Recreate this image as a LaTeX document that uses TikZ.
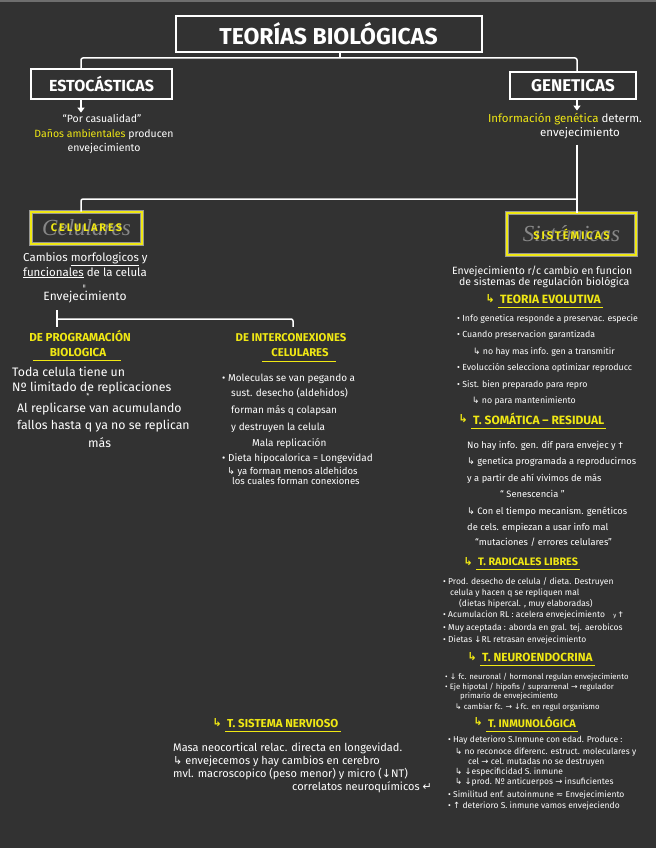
\documentclass[tikz,border=0pt]{standalone}
\usepackage{fontspec}
\setmainfont{Fira Sans}
\newfontfamily\symf{DejaVu Sans}
\newfontfamily\scriptf{Liberation Serif}
\newfontfamily\spacedf[LetterSpace=18]{Fira Sans}
\usetikzlibrary{positioning,arrows.meta,calc}
\definecolor{board}{RGB}{50,50,50}
\definecolor{hy}{RGB}{240,232,20}
\definecolor{boxg}{RGB}{150,150,150}
\definecolor{scrg}{RGB}{135,135,135}
\newcommand{\fsz}[1]{\fontsize{#1}{#1}\selectfont}
\newcommand{\sHook}{{\symf ↳}}
\newcommand{\sTo}{{\symf →}}
\newcommand{\sDown}{{\symf ↓}}
\newcommand{\sUp}{{\symf ↑}}
\newcommand{\sApx}{{\symf ≈}}
\newcommand{\sRet}{{\symf ↵}}
\newcommand{\hl}[1]{\textcolor{hy}{#1}}
\tikzset{
  wbox/.style={draw=white, line width=2pt, fill=board, text=white, inner sep=0pt},
  ybox/.style={draw=boxg, double=hy, double distance=2pt, line width=1pt, fill=board, inner sep=0pt},
  link/.style={white, line width=1.5pt, rounded corners=2pt},
  arr/.style={white, line width=1.5pt, -{Triangle[length=5pt,width=7pt]}},
  txt/.style={text=white, inner sep=0pt, anchor=base west},
  ctxt/.style={txt, anchor=base},
  yhead/.style={text=hy, inner sep=0pt, anchor=base west},
  yhook/.style={text=hy, inner sep=0pt, font=\bfseries\fsz{11}},
  uline/.style={hy, line width=1.6pt},
  scr/.style={text=scrg, font=\scriptf\itshape\fsz{23}, inner sep=0pt},
  ylbl/.style={text=hy, font=\spacedf\bfseries\fsz{11}, inner sep=0pt}
}

\begin{document}
\begin{tikzpicture}[x=1pt,y=-1pt]
  \fill[board] (0,0) rectangle (656,848);
  \fill[boxg!60!board] (0,0) rectangle (656,2);
  \useasboundingbox (0,0) rectangle (656,848);

  \node[wbox, minimum width=306, minimum height=36, font=\bfseries\fsz{23}] (title) at (328.5,34) {TEORÍAS BIOLÓGICAS};
  \node[wbox, minimum width=141, minimum height=30, font=\bfseries\fsz{16}] (esto) at (101.5,84) {ESTOCÁSTICAS};
  \node[wbox, minimum width=126, minimum height=27, font=\bfseries\fsz{17}] (gen) at (573,85.5) {GENETICAS};

  \coordinate (tj) at (340,58);
  \coordinate (tl) at (81,58);
  \coordinate (tr) at (577,58);
  \draw[link] (title.south -| tj) -- (tj);
  \draw[link] (esto.north -| tl) -- (tl) -- (tr) -- (gen.north -| tr);

  \node[ctxt, font=\fsz{10.5}] (est1) at (102,123) {“Por casualidad”};
  \node[ctxt, font=\fsz{10.5}] (est2) at (104,137) {\hl{Daños ambientales} producen};
  \node[ctxt, font=\fsz{10.5}] (est3) at (104,151) {envejecimiento};
  \draw[arr] (esto.south -| tl) -- ([yshift=2pt]est1.north -| tl);

  \node[ctxt, font=\fsz{11.5}] (gen1) at (565,122) {\hl{Información genética} determ.};
  \node[ctxt, font=\fsz{11.5}] (gen2) at (580,136) {envejecimiento};
  \draw[arr] (gen.south -| tr) -- ([yshift=2pt]gen1.north -| tr);

  \node[ybox, minimum width=111, minimum height=32] (celu) at (86.5,228) {};
  \node[scr] (celuS) at (celu) {Celulares};
  \node[ylbl] (celuL) at (celu) {CELULARES};
  \node[ybox, minimum width=129, minimum height=42] (sist) at (571.5,234) {};
  \node[scr] (sistS) at (sist) {Sistémicas};
  \node[ylbl] (sistL) at (sist) {SISTÉMICAS};

  \coordinate (sj) at (577,199);
  \coordinate (sl) at (81,199);
  \draw[link, shorten <=6pt] (gen2.south -| sj) -- (sj) -- (sist.north -| sj);
  \draw[link] (sj) -- (sl) -- (celu.north -| sl);

  \node[txt, font=\fsz{11.5}] (cel1) at (23,261) {Cambios \underline{morfologicos} y};
  \node[txt, font=\fsz{11.5}] (cel2) at (23,276) {\underline{funcionales} de la celula};
  \node[text=white, rotate=90, inner sep=0pt, font=\fsz{8}] (celeq) at (85,286) {=};
  \node[ctxt, font=\fsz{12}] (celenv) at (85,300) {Envejecimiento};

  \node[ctxt, text=hy, font=\bfseries\fsz{11.6}] (prog1) at (80,341) {DE PROGRAMACIÓN};
  \node[ctxt, text=hy, font=\bfseries\fsz{11.6}] (prog2) at (78,356) {BIOLOGICA};
  \draw[uline] ([xshift=-17pt,yshift=-4pt]prog2.south west) -- ([xshift=15pt,yshift=-4pt]prog2.south east);
  \node[ctxt, text=hy, font=\bfseries\fsz{11.3}] (inth1) at (291,341) {DE INTERCONEXIONES};
  \node[ctxt, text=hy, font=\bfseries\fsz{11.3}] (inth2) at (300,356) {CELULARES};
  \draw[uline] ([xshift=-9pt,yshift=-5pt]inth2.south west) -- ([xshift=7pt,yshift=-5pt]inth2.south east);

  \coordinate (bt) at (57,310);
  \coordinate (bb) at (57,327);
  \coordinate (bl) at (57,319);
  \draw[link] (bt) -- (bb);
  \draw[link] (bl) -| ([yshift=6pt]inth1.north -| 293,0);

  \foreach \x/\y/\tx [count=\i] in {12/376/{Toda celula tiene un}, 12/391/{Nº limitado de replicaciones},
      17/412/{Al replicarse van acumulando}, 17/429/{fallos hasta q ya no se replican}, 88/447/{más}}
    \node[txt, font=\fsz{12.3}] (prog\i) at (\x,\y) {\tx};
  \node[text=white, inner sep=0pt, font=\fsz{7}] (progast) at (88,396) {*};

  \foreach \x/\y/\tx [count=\i] in {222/381/{• Moleculas se van pegando a}, 231/396/{sust. desecho (aldehidos)},
      231/413/{forman más q colapsan}, 231/430/{y destruyen la celula}, 252/446/{Mala replicación},
      222/461/{• Dieta hipocalorica = Longevidad}}
    \node[txt, font=\fsz{10}] (int\i) at (\x,\y) {\tx};
  \node[txt, font=\fsz{9.5}] (int7) at (227,474.5) {\sHook\ ya forman menos aldehidos};
  \node[txt, font=\fsz{9.5}] (int8) at (232,484.5) {los cuales forman conexiones};

  \node[txt, font=\fsz{10.5}] (sis1) at (452,274) {Envejecimiento r/c cambio en funcion};
  \node[txt, font=\fsz{10.5}] (sis2) at (459,285) {de sistemas de regulación biológica};

  \foreach \n/\x/\y/\s/\tx in {evo/500/303/12/{TEORIA EVOLUTIVA}, som/473/424/12/{T. SOMÁTICA – RESIDUAL},
      rad/478/565/10.8/{T. RADICALES LIBRES}, neu/482/661/11.8/{T. NEUROENDOCRINA},
      inm/488/727/11/{T. INMUNOLÓGICA}, sn/227/727/11.5/{T. SISTEMA NERVIOSO}}
  {
    \node[yhead, font=\bfseries\fsz{\s}] (\n) at (\x,\y) {\tx};
    \node[yhook, left=5pt of \n] (\n-h) {\sHook};
    \draw[uline] ([xshift=-2pt,yshift=-4pt]\n.south west) -- ([xshift=2pt,yshift=-4pt]\n.south east);
  }

  \foreach \x/\y/\tx [count=\i] in {457/321.3/{• Info genetica responde a preservac. especie},
      457/337.3/{• Cuando preservacion garantizada}, 473/354.3/{\sHook\ no hay mas info. gen a transmitir},
      457/370.3/{• Evolucción selecciona optimizar reproducc}, 457/387.3/{• Sist. bien preparado para repro},
      472/403.3/{\sHook\ no para mantenimiento}}
    \node[txt, font=\fsz{8.8}] (evo\i) at (\x,\y) {\tx};

  \foreach \x/\y/\tx [count=\i] in {467/448.5/{No hay info. gen. dif para envejec y †},
      467/464.5/{\sHook\ genetica programada a reproducirnos}, 467/481.5/{y a partir de ahí vivimos de más},
      500/497.5/{“ Senescencia ”}, 467/514.5/{\sHook\ Con el tiempo mecanism. genéticos},
      467/530.5/{de cels. empiezan a usar info mal}, 475/545.5/{“mutaciones / errores celulares”}}
    \node[txt, font=\fsz{9.3}] (som\i) at (\x,\y) {\tx};

  \foreach \x/\y/\tx [count=\i] in {443/584.3/{• Prod. desecho de celula / dieta. Destruyen},
      450/595.3/{celula y hacen q se repliquen mal}, 459/606.3/{(dietas hipercal. , muy elaboradas)},
      443/617.3/{• Acumulacion RL : acelera envejecimiento\quad{\fsz{6}y} †},
      443/630.3/{• Muy aceptada : aborda en gral. tej. aerobicos},
      443/642.3/{• Dietas \sDown RL retrasan envejecimiento}}
    \node[txt, font=\fsz{8.5}] (rad\i) at (\x,\y) {\tx};

  \foreach \x/\y/\tx [count=\i] in {445/679/{• \sDown\ fc. neuronal / hormonal regulan envejecimiento},
      445/689/{• Eje hipotal / hipofis / suprarrenal \sTo\ regulador}, 460/698/{primario de envejecimiento},
      455/709/{\sHook\ cambiar fc. \sTo\ \sDown fc. en regul organismo}}
    \node[txt, font=\fsz{7.8}] (neu\i) at (\x,\y) {\tx};

  \foreach \x/\y/\tx [count=\i] in {448/742.3/{• Hay deterioro S.Inmune con edad. Produce :},
      455/754.3/{\sHook\ no reconoce diferenc. estruct. moleculares y},
      468/764.3/{cel \sTo\ cel. mutadas no se destruyen}, 455/774.3/{\sHook\ \sDown especificidad S. inmune},
      455/784.3/{\sHook\ \sDown prod. Nº anticuerpos \sTo\ insuficientes},
      448/797.3/{• Similitud enf. autoinmune \sApx\ Envejecimiento},
      448/808.3/{• \sUp\ deterioro S. inmune vamos envejeciendo}}
    \node[txt, font=\fsz{8.5}] (inm\i) at (\x,\y) {\tx};

  \foreach \y/\tx [count=\i] in {751/{Masa neocortical relac. directa en longevidad.},
      764/{\sHook\ envejecemos y hay cambios en cerebro},
      777/{mvl. macroscopico (peso menor) y micro (\sDown NT)}}
    \node[txt, font=\fsz{11}] (sn\i) at (173,\y) {\tx};
  \node[txt, anchor=base east, font=\fsz{11}] (sn4) at (432,790) {correlatos neuroquímicos \sRet};
\end{tikzpicture}
\end{document}
